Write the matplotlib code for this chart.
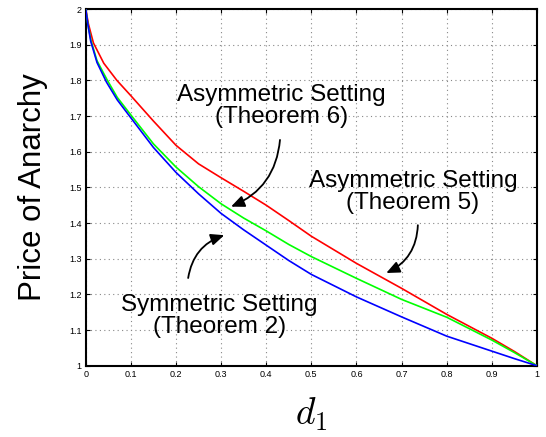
import matplotlib
matplotlib.use("Agg")
import matplotlib.pyplot as plt
from matplotlib.ticker import FuncFormatter

# Data
d_blue = [0.0, 0.005, 0.011, 0.025, 0.046, 0.07, 0.1, 0.15, 0.2, 0.25, 0.3, 0.35,
          0.4, 0.45, 0.5, 0.6, 0.7, 0.8, 0.9, 0.95, 1.0]
poa_blue = [2.0, 1.955, 1.91, 1.85, 1.795, 1.745, 1.695, 1.612, 1.542, 1.482, 1.427, 1.381,
            1.338, 1.295, 1.256, 1.193, 1.137, 1.083, 1.041, 1.02, 1.0]

d_green = [0.0, 0.005, 0.012, 0.025, 0.048, 0.07, 0.1, 0.15, 0.2, 0.25, 0.3, 0.35,
           0.4, 0.45, 0.5, 0.6, 0.7, 0.8, 0.9, 0.95, 1.0]
poa_green = [2.0, 1.955, 1.91, 1.855, 1.8, 1.752, 1.703, 1.622, 1.557, 1.502, 1.454, 1.414,
             1.378, 1.34, 1.306, 1.245, 1.186, 1.136, 1.072, 1.037, 1.0]

d_red = [0.0, 0.006, 0.017, 0.04, 0.069, 0.1, 0.15, 0.2, 0.25, 0.3, 0.35,
         0.4, 0.45, 0.5, 0.6, 0.7, 0.8, 0.9, 0.95, 1.0]
poa_red = [2.0, 1.958, 1.905, 1.848, 1.8, 1.757, 1.686, 1.618, 1.566, 1.527, 1.489,
           1.45, 1.407, 1.363, 1.287, 1.217, 1.144, 1.077, 1.04, 1.0]

x_ticks = [0, 0.1, 0.2, 0.3, 0.4, 0.5, 0.6, 0.7, 0.8, 0.9, 1]
y_ticks = [1, 1.1, 1.2, 1.3, 1.4, 1.5, 1.6, 1.7, 1.8, 1.9, 2]

plt.rcParams['font.family'] = ['Liberation Sans', 'DejaVu Sans']
plt.rcParams['mathtext.fontset'] = 'cm'

fig = plt.figure(figsize=(5.46, 4.37), dpi=100)
ax = fig.add_axes([0.157, 0.163, 0.8265, 0.8164])

ax.plot(d_red, poa_red, color='#ff0000', lw=1.2, zorder=3)
ax.plot(d_green, poa_green, color='#00ff00', lw=1.2, zorder=3)
ax.plot(d_blue, poa_blue, color='#0000ff', lw=1.2, zorder=3)

ax.set_xlim(0, 1)
ax.set_ylim(1, 2)
ax.set_xticks(x_ticks)
ax.set_yticks(y_ticks)
fmt = FuncFormatter(lambda v, p: ('%g' % round(v, 2)))
ax.xaxis.set_major_formatter(fmt)
ax.yaxis.set_major_formatter(fmt)
ax.tick_params(direction='in', length=3, width=0.8, labelsize=6.5,
               top=True, right=True, pad=3)
for s in ax.spines.values():
    s.set_linewidth(1.5)
ax.grid(True, color='#888888', linestyle=(0, (1, 3)), linewidth=0.8)
ax.set_axisbelow(True)

ax.set_ylabel('Price of Anarchy', fontsize=22.5, labelpad=15)
ax.set_xlabel('$d_1$', fontsize=27, labelpad=12)

ann_kw = dict(fontsize=17.5, ha='center', va='center', linespacing=1.0)
arrow_kw = dict(arrowstyle='-|>,head_length=0.8,head_width=0.35', color='black',
                lw=1.3, shrinkA=0, shrinkB=0)

ax.annotate('', xy=(0.322, 1.446), xytext=(0.4305, 1.633),
            arrowprops=dict(connectionstyle='arc3,rad=-0.3', **arrow_kw))
ax.text(0.433, 1.728, 'Asymmetric Setting\n(Theorem 6)', **ann_kw)

ax.annotate('', xy=(0.666, 1.26), xytext=(0.736, 1.394),
            arrowprops=dict(connectionstyle='arc3,rad=-0.3', **arrow_kw))
ax.text(0.725, 1.487, 'Asymmetric Setting\n(Theorem 5)', **ann_kw)

ax.annotate('', xy=(0.307, 1.366), xytext=(0.227, 1.246),
            arrowprops=dict(connectionstyle='arc3,rad=-0.3', **arrow_kw))
ax.text(0.296, 1.139, 'Symmetric Setting\n(Theorem 2)', **ann_kw)

fig.savefig('out.png', dpi=100)
